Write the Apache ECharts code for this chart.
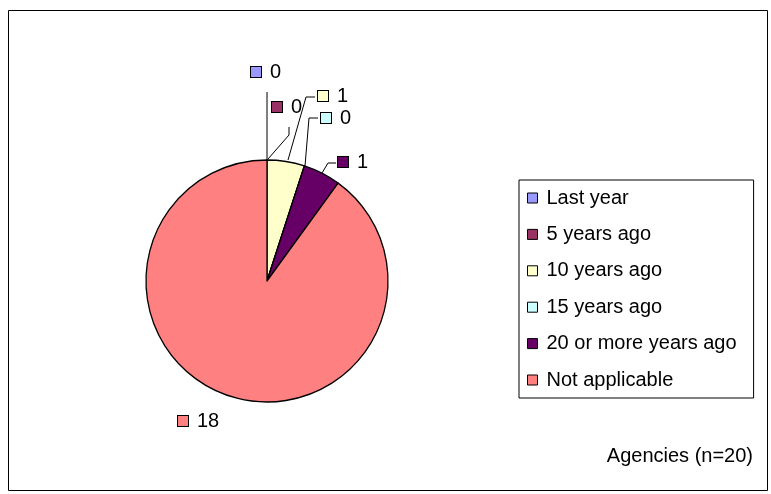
<!DOCTYPE html>
<html>
<head>
<meta charset="utf-8">
<script src="https://cdn.jsdelivr.net/npm/echarts@6/dist/echarts.min.js"></script>
<style>
	html, body { margin: 0; padding: 0; background: #fff; }
	#chart { width: 771px; height: 494px; }
</style>
</head>
<body>
<div id="chart"></div>
<script>
var categories = ["Last year", "5 years ago", "10 years ago", "15 years ago", "20 or more years ago", "Not applicable"];
var counts = [0, 0, 1, 0, 1, 18];
var sliceColors = ["#9999FF", "#993366", "#FFFFCC", "#CCFFFF", "#660066", "#FF8080"];
var noteText = "Agencies (n=20)";

// label spots, offsets from the pie centre: [labelX, labelY, line points]
var cx = 267, cy = 281, radius = 121;
var labelSpots = [
	[-16, -209, [[0, -122], [0, -150], [0, -189]]],
	[5, -174, [[1, -122], [22, -146], [22, -154]]],
	[51, -185, [[21, -121], [39, -184], [48, -184]]],
	[54, -163, [[38, -115], [42, -163], [51, -163]]],
	[71, -119, [[55, -108], [61, -118], [69, -118]]],
	[-89, 140, null]
];

var fontName = "Liberation Sans, Arial, sans-serif";
var chart = echarts.init(document.getElementById("chart"));

var pieData = [];
for (var i = 0; i < categories.length; i++) {
	pieData.push({
		name: categories[i],
		value: counts[i],
		itemStyle: { color: sliceColors[i] },
		label: {
			rich: {
				sq: {
					width: 10, height: 10,
					backgroundColor: sliceColors[i],
					borderColor: "#000", borderWidth: 1
				}
			}
		},
		labelLine: { show: labelSpots[i][2] != null }
	});
}

chart.setOption({
	animation: false,
	textStyle: { fontFamily: fontName },
	graphic: [{
		type: "rect",
		shape: { x: 8.5, y: 10.5, width: 759, height: 480 },
		style: { fill: null, stroke: "#000", lineWidth: 1 },
		silent: true
	}],
	title: {
		text: noteText,
		right: 13,
		top: 441,
		textStyle: { fontSize: 20, fontWeight: "normal", color: "#000", fontFamily: fontName }
	},
	legend: {
		orient: "vertical",
		left: 519,
		top: 180,
		padding: [8, 17, 8, 8],
		borderColor: "#000",
		borderWidth: 1,
		itemWidth: 10,
		itemHeight: 10,
		itemGap: 16.4,
		icon: "rect",
		itemStyle: { borderColor: "#000", borderWidth: 1 },
		textStyle: { fontSize: 20, color: "#000", lineHeight: 20, padding: [0, 0, 0, 4] },
		data: categories
	},
	series: [{
		type: "pie",
		center: [cx, cy],
		radius: radius,
		startAngle: 90,
		clockwise: true,
		avoidLabelOverlap: false,
		itemStyle: { borderColor: "#000", borderWidth: 1.3 },
		emphasis: { disabled: true },
		label: {
			show: true,
			formatter: "{sq|}{v|{c}}",
			color: "#000",
			rich: {
				v: { fontSize: 20, color: "#000", padding: [0, 0, 0, 9] }
			}
		},
		labelLine: { lineStyle: { color: "#000", width: 1 } },
		labelLayout: function (p) {
			var s = labelSpots[p.dataIndex];
			var out = {
				x: cx + s[0],
				y: cy + s[1],
				align: "left",
				verticalAlign: "middle"
			};
			if (s[2]) {
				out.labelLinePoints = s[2].map(function (pt) { return [cx + pt[0], cy + pt[1]]; });
			}
			return out;
		},
		data: pieData
	}]
});
</script>
</body>
</html>
